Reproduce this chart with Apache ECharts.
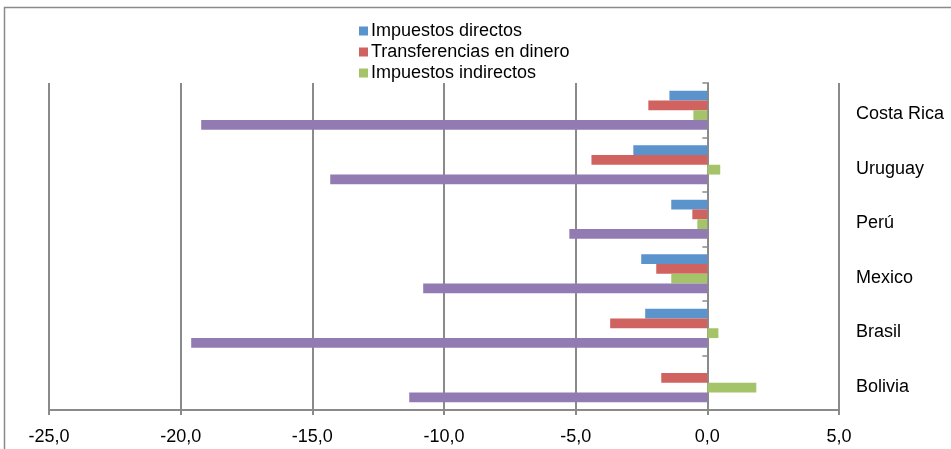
<!DOCTYPE html>
<html><head><meta charset="utf-8">
<script src="https://cdn.jsdelivr.net/npm/echarts@6/dist/echarts.min.js"></script>
<style>html,body{margin:0;padding:0;background:#fff}#c{width:951px;height:449px}</style>
</head><body><div id="c"></div>
<script>
const categories = ['Costa Rica', 'Uruguay', 'Perú', 'Mexico', 'Brasil', 'Bolivia'];
const impuestosDirectos = [-1.44, -2.81, -1.37, -2.51, -2.36, 0];
const transferencias = [-2.24, -4.40, -0.57, -1.94, -3.69, -1.75];
const impuestosIndirectos = [-0.53, 0.49, -0.38, -1.37, 0.42, 1.86];
const total = [-19.22, -14.32, -5.24, -10.79, -19.6, -11.32];
const xTicks = {min: -25, max: 5, interval: 5};

const font = 'Liberation Sans, Arial, sans-serif';
const chart = echarts.init(document.getElementById('c'), null, {renderer: 'canvas'});
const mk = (name, data, color) => ({
  name, type: 'bar', data, barGap: 0, barCategoryGap: '28%',
  itemStyle: {color}, xAxisIndex: 0, yAxisIndex: 0
});
chart.setOption({
  animation: false,
  graphic: [{type: 'rect', shape: {x: 4.5, y: 7.5, width: 960, height: 460},
    style: {fill: 'none', stroke: '#8a8a8a', lineWidth: 1.5}, z: -10}],
  legend: {
    data: ['Impuestos directos', 'Transferencias en dinero', 'Impuestos indirectos'],
    orient: 'vertical', left: 354, top: 17, itemWidth: 9, itemHeight: 9, itemGap: 3,
    icon: 'rect',
    textStyle: {fontFamily: font, fontSize: 18, color: '#000', lineHeight: 18, padding: [0, 0, 0, -2]}
  },
  grid: [
    {left: 49, right: 112, top: 83, bottom: 39, containLabel: false},
    {left: 49, right: 112, top: 87, bottom: 35, containLabel: false}
  ],
  xAxis: [{
    type: 'value', gridIndex: 0, min: xTicks.min, max: xTicks.max, interval: xTicks.interval,
    axisLine: {show: true, onZero: false, lineStyle: {color: '#8a8a8a', width: 2}},
    axisTick: {show: true, length: 5, lineStyle: {color: '#8a8a8a', width: 2}},
    splitLine: {show: true, lineStyle: {color: '#8a8a8a', width: 2}},
    axisLabel: {fontFamily: font, fontSize: 18, color: '#000', margin: 18,
      formatter: v => v.toFixed(1).replace('.', ',')}
  }, {
    type: 'value', gridIndex: 1, min: xTicks.min, max: xTicks.max, interval: xTicks.interval,
    show: false
  }],
  yAxis: [{
    type: 'category', gridIndex: 0, data: categories, inverse: true, position: 'left',
    axisLine: {show: true, onZero: true, lineStyle: {color: '#8a8a8a', width: 2}},
    axisTick: {show: true, length: 5, lineStyle: {color: '#8a8a8a', width: 1.5}},
    axisLabel: {show: false}
  }, {
    type: 'category', gridIndex: 1, data: categories, inverse: true, position: 'right',
    axisLine: {show: false}, axisTick: {show: false}, splitLine: {show: false},
    axisLabel: {fontFamily: font, fontSize: 18, color: '#000', margin: 17, align: 'left'}
  }],
  series: [
    mk('Impuestos directos', impuestosDirectos, '#5b93cd'),
    mk('Transferencias en dinero', transferencias, '#d0635f'),
    mk('Impuestos indirectos', impuestosIndirectos, '#a5c46a'),
    mk('Total', total, '#927bb3')
  ]
});
</script></body></html>
